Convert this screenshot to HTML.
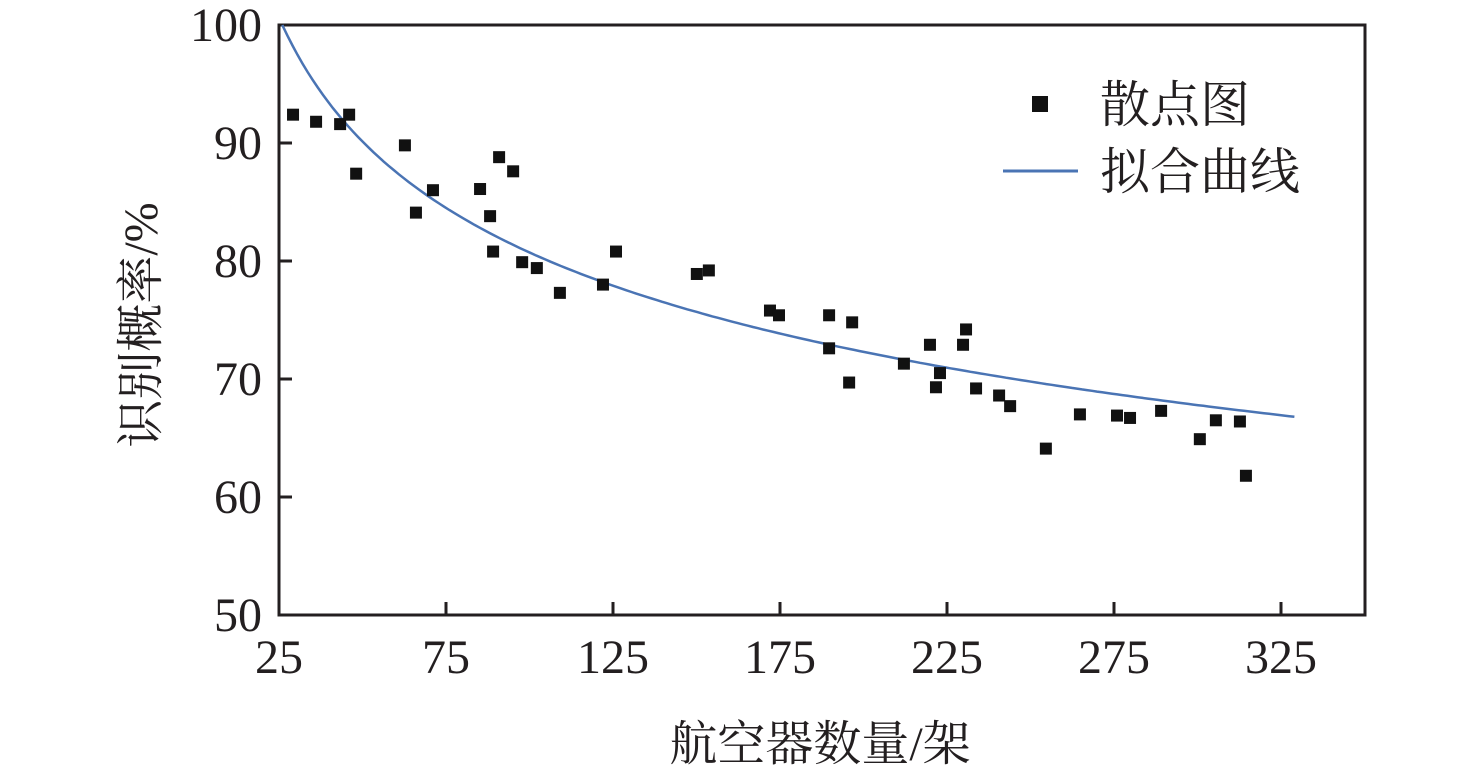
<!DOCTYPE html>
<html><head><meta charset="utf-8"><style>
html,body{margin:0;padding:0;background:#fff;}
svg{display:block;}
text{font-family:"Liberation Serif","Noto Serif CJK SC",serif;fill:#231f20;}
</style></head><body>
<svg id="chart" width="1476" height="773"></svg>
<script>
const xTicks=[25,75,125,175,225,275,325];
const yTicks=[50,60,70,80,90,100];
const ptX=[29.2,36.1,43.3,46.0,48.1,62.7,66.0,71.1,85.2,88.2,89.1,90.9,95.1,97.8,102.2,109.1,122.0,125.9,150.1,153.7,172.0,174.7,189.7,189.7,195.7,196.6,212.1,219.9,221.7,222.9,229.8,230.7,233.7,240.6,243.9,254.6,264.8,275.9,279.8,289.1,300.7,305.5,312.7,314.5];
const ptY=[92.4,91.8,91.6,92.4,87.4,89.8,84.1,86.0,86.1,83.8,80.8,88.8,87.6,79.9,79.4,77.3,78.0,80.8,78.9,79.2,75.8,75.4,75.4,72.6,69.7,74.8,71.3,72.9,69.3,70.5,72.9,74.2,69.2,68.6,67.7,64.1,67.0,66.9,66.7,67.3,64.9,66.5,66.4,61.8];
const fitStart=26, fitEnd=329, fitY0=100, fitY1=66.8;
const NS="http://www.w3.org/2000/svg";
const svg=document.getElementById('chart');
const L=279,R=1365,T=25,B=615;
const sx=v=>L+(v-25)*(167/50);
const sy=v=>B-(v-50)*(B-T)/50;
function mk(tag,at,parent){const e=document.createElementNS(NS,tag);for(const k in at)e.setAttribute(k,at[k]);(parent||svg).appendChild(e);return e;}
const frame=mk('rect',{x:L,y:T,width:R-L,height:B-T,fill:'none',stroke:'#231f20','stroke-width':3});


xTicks.forEach(v=>{
  const t=mk('line',{x1:sx(v),x2:sx(v),y1:B,y2:B-13,stroke:'#231f20','stroke-width':3});
  
  
  const lb=mk('text',{x:sx(v),y:B+58,'text-anchor':'middle','font-size':48});
  lb.textContent=v;
  
  
});
yTicks.forEach(v=>{
  const t=mk('line',{x1:L,x2:L+13,y1:sy(v),y2:sy(v),stroke:'#231f20','stroke-width':3});
  
  
  const lb=mk('text',{x:L-17,y:sy(v)+16,'text-anchor':'end','font-size':48});
  lb.textContent=v;
  
  
});
const b=Math.log(fitY1/fitY0)/Math.log(fitEnd/fitStart);
const a=fitY0/Math.pow(fitStart,b);
let d='';
for(let i=0;i<=200;i++){const x=fitStart+(fitEnd-fitStart)*i/200;const y=a*Math.pow(x,b);d+=(i?'L':'M')+sx(x).toFixed(1)+','+sy(y).toFixed(1);}
const curve=mk('path',{d:d,fill:'none',stroke:'#4a74b4','stroke-width':2.5});


ptX.forEach((x,i)=>{
  const p=mk('rect',{x:sx(x)-6,y:sy(ptY[i])-6,width:12,height:12,fill:'#111'});
  
  
});
const lm=mk('rect',{x:1032,y:96,width:16,height:16,fill:'#111'});


const lt1=mk('text',{x:1100,y:122,'font-size':50});
lt1.textContent='散点图';


const ll=mk('line',{x1:1003,x2:1078,y1:171,y2:171,stroke:'#4a74b4','stroke-width':3});


const lt2=mk('text',{x:1100,y:189,'font-size':50});
lt2.textContent='拟合曲线';


const xt=mk('text',{x:820,y:760,'text-anchor':'middle','font-size':48});
xt.textContent='航空器数量/架';


const yt=mk('text',{x:0,y:0,'text-anchor':'middle','font-size':48,transform:'translate(157,325) rotate(-90)'});
yt.textContent='识别概率/%';


</script>
</body></html>
